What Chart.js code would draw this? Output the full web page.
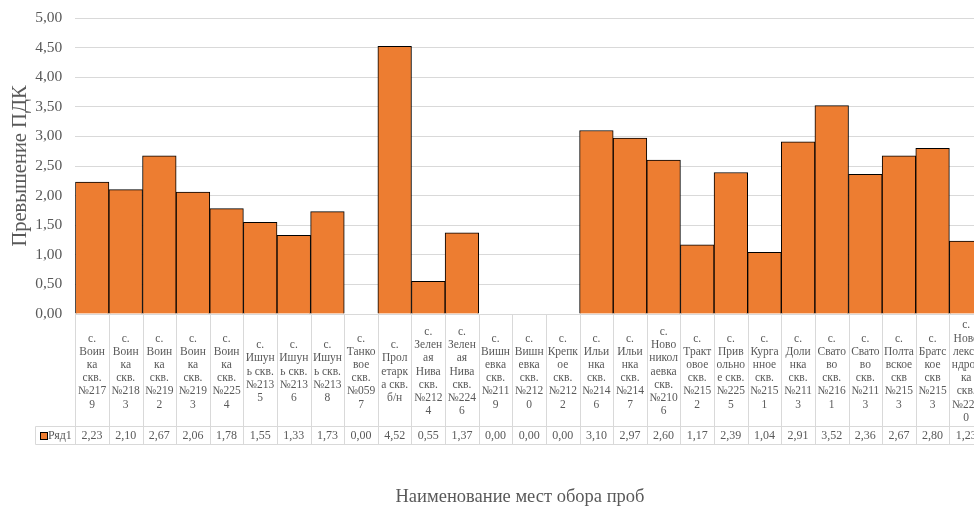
<!DOCTYPE html>
<html lang="ru">
<head>
<meta charset="utf-8">
<title>Превышение ПДК</title>
<script src="https://cdn.jsdelivr.net/npm/chart.js@4"></script>
<style>
  html, body { margin: 0; padding: 0; background: #fff; overflow: hidden; }
  #wrap { width: 990px; height: 506px; position: relative; }
</style>
</head>
<body>
<div id="wrap"><canvas id="myChart"></canvas></div>
<script>
// подписи мест отбора (построчно, как переносятся в ячейках таблицы)
const places = [
  ['с.', 'Воин', 'ка', 'скв.', '№217', '9'],
  ['с.', 'Воин', 'ка', 'скв.', '№218', '3'],
  ['с.', 'Воин', 'ка', 'скв.', '№219', '2'],
  ['с.', 'Воин', 'ка', 'скв.', '№219', '3'],
  ['с.', 'Воин', 'ка', 'скв.', '№225', '4'],
  ['с.', 'Ишун', 'ь скв.', '№213', '5'],
  ['с.', 'Ишун', 'ь скв.', '№213', '6'],
  ['с.', 'Ишун', 'ь скв.', '№213', '8'],
  ['с.', 'Танко', 'вое', 'скв.', '№059', '7'],
  ['с.', 'Прол', 'етарк', 'а скв.', 'б/н'],
  ['с.', 'Зелен', 'ая', 'Нива', 'скв.', '№212', '4'],
  ['с.', 'Зелен', 'ая', 'Нива', 'скв.', '№224', '6'],
  ['с.', 'Вишн', 'евка', 'скв.', '№211', '9'],
  ['с.', 'Вишн', 'евка', 'скв.', '№212', '0'],
  ['с.', 'Крепк', 'ое', 'скв.', '№212', '2'],
  ['с.', 'Ильи', 'нка', 'скв.', '№214', '6'],
  ['с.', 'Ильи', 'нка', 'скв.', '№214', '7'],
  ['с.', 'Ново', 'никол', 'аевка', 'скв.', '№210', '6'],
  ['с.', 'Тракт', 'овое', 'скв.', '№215', '2'],
  ['с.', 'Прив', 'ольно', 'е скв.', '№225', '5'],
  ['с.', 'Курга', 'нное', 'скв.', '№215', '1'],
  ['с.', 'Доли', 'нка', 'скв.', '№211', '3'],
  ['с.', 'Свато', 'во', 'скв.', '№216', '1'],
  ['с.', 'Свато', 'во', 'скв.', '№211', '3'],
  ['с.', 'Полта', 'вское', 'скв', '№215', '3'],
  ['с.', 'Братс', 'кое', 'скв', '№215', '3'],
  ['с.', 'Ново', 'лекса', 'ндров', 'ка', 'скв.', '№222', '0']
];

// превышение ПДК по каждой скважине
const ryad1 = [2.23, 2.10, 2.67, 2.06, 1.78, 1.55, 1.33, 1.73, 0.00, 4.52,
               0.55, 1.37, 0.00, 0.00, 0.00, 3.10, 2.97, 2.60, 1.17, 2.39,
               1.04, 2.91, 3.52, 2.36, 2.67, 2.80, 1.23];

const seriesName = 'Ряд1';
const yTitle = 'Превышение ПДК';
const xTitle = 'Наименование мест обора проб';

const fmt = v => v.toFixed(2).replace('.', ',');
const serif = 'Liberation Serif, Times New Roman, serif';
const grey = '#595959';
const lineGrey = '#d9d9d9';
const orange = '#ED7D31';

// таблица данных под осью X + подпись оси
const dataTable = {
  id: 'dataTable',
  afterDraw(chart) {
    const c = chart.ctx;
    const xs = chart.scales.x;
    const area = chart.chartArea;
    const top = Math.round(area.bottom) - 0.5;
    const mid = top + 113;
    const bot = mid + 18;
    const step = xs.getPixelForValue(1) - xs.getPixelForValue(0);
    const legLeft = 35.5;

    c.save();
    c.strokeStyle = lineGrey;
    c.lineWidth = 1;
    c.beginPath();
    for (let i = 0; i <= places.length; i++) {
      const x = Math.round(xs.getPixelForValue(i) - step / 2) + 0.5;
      c.moveTo(x, top + 1);
      c.lineTo(x, bot);
    }
    c.moveTo(legLeft, mid);
    c.lineTo(legLeft, bot);
    c.moveTo(legLeft, mid);
    c.lineTo(chart.width, mid);
    c.moveTo(legLeft, bot);
    c.lineTo(chart.width, bot);
    c.stroke();

    c.fillStyle = grey;
    c.textAlign = 'center';
    c.textBaseline = 'middle';
    c.font = '11.5px ' + serif;
    const lh = 13.2;
    const cy = top + 58;
    places.forEach((lines, i) => {
      const x = xs.getPixelForValue(i);
      const y0 = cy - (lines.length - 1) * lh / 2;
      lines.forEach((s, k) => c.fillText(s, x, y0 + k * lh));
    });

    c.font = '12px ' + serif;
    const vy = (mid + bot) / 2 + 0.5;
    ryad1.forEach((v, i) => c.fillText(fmt(v), xs.getPixelForValue(i), vy));

    // ключ легенды
    c.fillStyle = orange;
    c.fillRect(40, vy - 3.5, 7, 7);
    c.strokeStyle = '#000';
    c.strokeRect(40.5, vy - 3.5, 7, 7);
    c.fillStyle = grey;
    c.textAlign = 'left';
    c.fillText(seriesName, 48, vy);

    c.font = '18.5px ' + serif;
    c.textAlign = 'center';
    c.fillText(xTitle, 520, 497);
    c.restore();
  }
};

const ctx = document.getElementById('myChart');
new Chart(ctx, {
  type: 'bar',
  data: {
    labels: places.map(l => l.join(' ')),
    datasets: [{
      label: seriesName,
      data: ryad1,
      backgroundColor: ryad1.map(v => (v > 0 ? orange : 'rgba(0,0,0,0)')),
      borderColor: '#000',
      borderWidth: ryad1.map(v => (v > 0 ? 1 : 0)),
      barPercentage: 1,
      categoryPercentage: 1
    }]
  },
  options: {
    responsive: true,
    maintainAspectRatio: false,
    animation: false,
    layout: { padding: { top: 18, right: 7, bottom: 192, left: 0 } },
    plugins: {
      legend: { display: false },
      tooltip: { enabled: false }
    },
    scales: {
      x: { display: false },
      y: {
        min: 0,
        max: 5,
        ticks: {
          stepSize: 0.5,
          padding: 13,
          color: grey,
          font: { family: serif, size: 15.5 },
          callback: v => fmt(v)
        },
        grid: { color: lineGrey, drawTicks: false },
        border: { display: false },
        title: {
          display: true,
          text: yTitle,
          color: grey,
          font: { family: serif, size: 20.5, weight: 'normal' },
          padding: { top: 8, bottom: 0 }
        },
        afterFit(scale) {
          scale.width = 75.3;
          scale.paddingTop = 0;
          scale.paddingBottom = 0;
        }
      }
    }
  },
  plugins: [dataTable]
});
</script>
</body>
</html>
